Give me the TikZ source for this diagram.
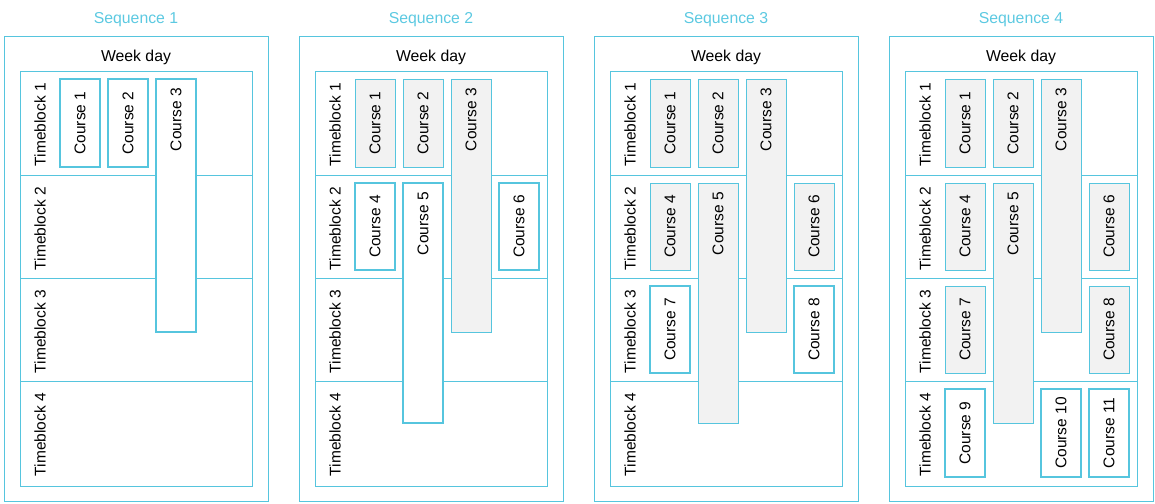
\documentclass[tikz,border=0pt]{standalone}
\usepackage{fontspec}
\setmainfont{Liberation Sans}
\definecolor{cy}{RGB}{86,197,222}
\definecolor{tcy}{RGB}{92,201,225}
\definecolor{gfill}{RGB}{242,242,242}
\tikzset{
  frame/.style={draw=cy, line width=0.85pt},
  grid/.style={draw=cy, line width=0.85pt},
  act/.style={draw=cy, line width=2.3pt, fill=white},
  inact/.style={draw=cy, line width=0.85pt, fill=gfill},
  lbl/.style={rotate=90, font=\fontsize{15.5}{18}\selectfont, inner sep=0pt},
  ttl/.style={font=\fontsize{15.8}{18}\selectfont, text=tcy, inner sep=0pt},
  hdr/.style={font=\fontsize{15.8}{18}\selectfont, inner sep=0pt},
}
% #1 name, #2 x-left, #3 ytop, #4 ybot, #5 style, #6 text
\newcommand\crsc[6]{%
  \pgfmathsetmacro\hh{#4-#3}%
  \node[#5, minimum width=40pt, minimum height=\hh pt, inner sep=0pt, outer sep=0pt] (#1) at ({#2+20},{(#3+#4)/2}) {};
  \node[lbl] (#1t) at (#1.center) {#6};}
\newcommand\crst[6]{%
  \pgfmathsetmacro\hh{#4-#3}%
  \node[#5, minimum width=40pt, minimum height=\hh pt, inner sep=0pt, outer sep=0pt] (#1) at ({#2+20},{(#3+#4)/2}) {};
  \node[lbl, anchor=east] (#1t) at ([yshift=-9pt]#1.north) {#6};}
\begin{document}
\begin{tikzpicture}[x=1pt,y=-1pt]
\useasboundingbox (0,0) rectangle (1155,503);
\foreach \s in {1,2,3,4}{
  \pgfmathsetmacro\o{(\s-1)*295}
  \node[ttl] (title\s) at (136+\o,19.5) {Sequence \s};
  \draw[frame] (4+\o,36) rectangle (268+\o,501);
  \node[hdr] (week\s) at (136+\o,57.5) {Week day};
  \draw[grid] (20+\o,71) rectangle (252+\o,486);
  \foreach \yy in {175,278,381}{
    \draw[grid] (20+\o,\yy) -- (252+\o,\yy);
  }
  \foreach \r/\top in {1/71,2/175,3/278,4/381}{
    \node[lbl, anchor=east] (s\s tb\r) at (40+\o,\top+12) {Timeblock \r};
  }
}
% Sequence 1
\crsc{s1c1}{60}{79}{167}{act}{Course 1}
\crsc{s1c2}{108}{79}{167}{act}{Course 2}
\crst{s1c3}{156}{79}{332}{act}{Course 3}
% Sequence 2
\crsc{s2c1}{355}{79}{167}{inact}{Course 1}
\crsc{s2c2}{403}{79}{167}{inact}{Course 2}
\crst{s2c3}{451}{79}{332}{inact}{Course 3}
\crsc{s2c4}{355}{183}{270}{act}{Course 4}
\crst{s2c5}{403}{183}{423}{act}{Course 5}
\crsc{s2c6}{499}{183}{270}{act}{Course 6}
% Sequence 3
\crsc{s3c1}{650}{79}{167}{inact}{Course 1}
\crsc{s3c2}{698}{79}{167}{inact}{Course 2}
\crst{s3c3}{746}{79}{332}{inact}{Course 3}
\crsc{s3c4}{650}{183}{270}{inact}{Course 4}
\crst{s3c5}{698}{183}{423}{inact}{Course 5}
\crsc{s3c6}{794}{183}{270}{inact}{Course 6}
\crsc{s3c7}{650}{286}{373}{act}{Course 7}
\crsc{s3c8}{794}{286}{373}{act}{Course 8}
% Sequence 4
\crsc{s4c1}{945}{79}{167}{inact}{Course 1}
\crsc{s4c2}{993}{79}{167}{inact}{Course 2}
\crst{s4c3}{1041}{79}{332}{inact}{Course 3}
\crsc{s4c4}{945}{183}{270}{inact}{Course 4}
\crst{s4c5}{993}{183}{423}{inact}{Course 5}
\crsc{s4c6}{1089}{183}{270}{inact}{Course 6}
\crsc{s4c7}{945}{286}{373}{inact}{Course 7}
\crsc{s4c8}{1089}{286}{373}{inact}{Course 8}
\crsc{s4c9}{945}{389}{477}{act}{Course 9}
\crsc{s4c10}{1041}{389}{477}{act}{Course 10}
\crsc{s4c11}{1089}{389}{477}{act}{Course 11}
\end{tikzpicture}
\end{document}
